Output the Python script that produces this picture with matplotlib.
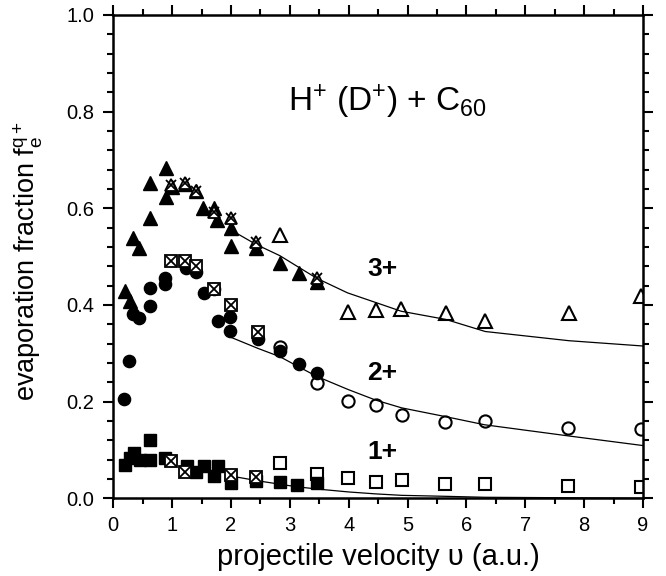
import matplotlib
matplotlib.use("Agg")
import matplotlib.pyplot as plt
from matplotlib.ticker import MultipleLocator

plt.rcParams['font.family'] = ['Liberation Sans', 'DejaVu Sans']
plt.rcParams['mathtext.fontset'] = 'custom'
plt.rcParams['mathtext.rm'] = 'Liberation Sans'
plt.rcParams['mathtext.default'] = 'regular'

# 1+ : filled (H+), crossed (D+), open
x1_fill = [0.20, 0.29, 0.35, 0.45, 0.62, 0.62, 0.88, 1.25, 1.41, 1.55, 1.72, 1.78, 2.00, 2.43, 2.83, 3.13, 3.47]
y1_fill = [0.068, 0.083, 0.093, 0.080, 0.080, 0.121, 0.083, 0.066, 0.054, 0.066, 0.046, 0.066, 0.031, 0.036, 0.034, 0.028, 0.031]
x1_cross = [0.99, 1.22, 2.00, 2.43]
y1_cross = [0.078, 0.055, 0.048, 0.043]
x1_open = [2.83, 3.47, 3.98, 4.46, 4.90, 5.64, 6.31, 7.73, 8.97]
y1_open = [0.072, 0.050, 0.041, 0.034, 0.038, 0.030, 0.030, 0.025, 0.023]

# 2+
x2_fill = [0.19, 0.27, 0.34, 0.44, 0.62, 0.62, 0.88, 0.88, 1.24, 1.37, 1.41, 1.54, 1.71, 1.78, 1.99, 1.99, 2.46, 2.83, 3.15, 3.46]
y2_fill = [0.205, 0.284, 0.381, 0.373, 0.397, 0.435, 0.455, 0.443, 0.476, 0.478, 0.469, 0.424, 0.433, 0.367, 0.376, 0.346, 0.329, 0.305, 0.277, 0.260]
x2_cross = [0.99, 1.22, 1.41, 1.72, 2.00, 2.46]
y2_cross = [0.491, 0.491, 0.480, 0.433, 0.399, 0.344]
x2_open = [2.83, 3.46, 3.99, 4.46, 4.90, 5.64, 6.31, 7.73, 8.97]
y2_open = [0.312, 0.238, 0.202, 0.193, 0.172, 0.157, 0.159, 0.145, 0.143]

# 3+
x3_fill = [0.20, 0.28, 0.34, 0.44, 0.62, 0.62, 0.89, 0.89, 1.00, 1.22, 1.41, 1.53, 1.72, 1.76, 2.00, 2.00, 2.43, 2.83, 3.15, 3.46]
y3_fill = [0.428, 0.409, 0.538, 0.518, 0.580, 0.653, 0.683, 0.624, 0.645, 0.650, 0.635, 0.600, 0.601, 0.575, 0.559, 0.521, 0.518, 0.487, 0.466, 0.448]
x3_cross = [0.99, 1.22, 1.41, 1.72, 2.00, 2.43, 3.46]
y3_cross = [0.649, 0.652, 0.636, 0.592, 0.580, 0.531, 0.455]
x3_open = [2.83, 3.98, 4.46, 4.89, 5.65, 6.32, 7.74, 8.97]
y3_open = [0.545, 0.386, 0.389, 0.392, 0.384, 0.366, 0.383, 0.419]

# model curves
c1_x = [2.0, 2.46, 3.1, 3.47, 4.0, 4.46, 4.9, 5.64, 6.31, 7.73, 9.0]
c1_y = [0.046, 0.036, 0.024, 0.019, 0.013, 0.009, 0.006, 0.004, 0.002, 0.001, 0.0]
c2_x = [2.0, 2.46, 2.83, 3.15, 3.46, 3.99, 4.46, 4.90, 5.64, 6.31, 7.73, 9.0]
c2_y = [0.333, 0.310, 0.293, 0.272, 0.252, 0.225, 0.203, 0.187, 0.169, 0.152, 0.129, 0.109]
c3_x = [2.0, 2.43, 2.83, 3.15, 3.46, 3.98, 4.46, 4.89, 5.65, 6.32, 7.74, 9.0]
c3_y = [0.555, 0.525, 0.502, 0.478, 0.455, 0.425, 0.405, 0.387, 0.370, 0.345, 0.326, 0.315]

fig = plt.figure(figsize=(6.66, 5.76), dpi=100)
ax = fig.add_axes([0.170, 0.135, 0.7955, 0.839])

ms = 8.8
for cx, cy in [(c1_x, c1_y), (c2_x, c2_y), (c3_x, c3_y)]:
    ax.plot(cx, cy, color='black', lw=0.9, zorder=2)

for xf, yf, xc, yc, xo, yo, m in [
    (x1_fill, y1_fill, x1_cross, y1_cross, x1_open, y1_open, 's'),
    (x2_fill, y2_fill, x2_cross, y2_cross, x2_open, y2_open, 'o'),
    (x3_fill, y3_fill, x3_cross, y3_cross, x3_open, y3_open, '^'),
]:
    big = ms + (1 if m == '^' else 0)
    ax.plot(xf, yf, ls='none', marker=m, ms=big, color='black', zorder=3)
    cm = 's' if m != '^' else '^'
    ax.plot(xc, yc, ls='none', marker=cm, ms=ms, mfc='white', mec='black', mew=1.3, zorder=4)
    ax.plot(xc, yc, ls='none', marker='x', ms=ms - 1, mec='black', mew=1.3, zorder=5)
    ax.plot(xo, yo, ls='none', marker=m, ms=big, mfc='none', mec='black', mew=1.5, zorder=4)

ax.text(4.66, 0.80, r'H$^{+}$ (D$^{+}$) + C$_{60}$', fontsize=24, ha='center', va='baseline')
ax.text(4.57, 0.475, '3+', fontsize=19, fontweight='bold', ha='center', va='center')
ax.text(4.57, 0.259, '2+', fontsize=19, fontweight='bold', ha='center', va='center')
ax.text(4.57, 0.096, '1+', fontsize=19, fontweight='bold', ha='center', va='center')

ax.set_xlim(0, 9)
ax.set_ylim(0, 1.0)
ax.xaxis.set_major_locator(MultipleLocator(1))
ax.xaxis.set_minor_locator(MultipleLocator(0.5))
ax.yaxis.set_major_locator(MultipleLocator(0.2))
ax.yaxis.set_minor_locator(MultipleLocator(0.04))
ax.set_yticklabels([f'{v:.1f}' for v in ax.get_yticks()])

ax.tick_params(which='both', direction='out', top=True, right=True, width=1.5, labelsize=14.5)
ax.tick_params(which='major', length=7.5, pad=5)
ax.tick_params(axis='y', which='major', pad=6)
ax.tick_params(which='minor', length=4.5)
for s in ax.spines.values():
    s.set_linewidth(1.8)

ax.set_xlabel('projectile velocity υ (a.u.)', fontsize=21)
ax.set_ylabel(r'evaporation fraction f$_{e}^{q+}$', fontsize=19.5)
ax.xaxis.set_label_coords(0.5, -0.092)
ax.yaxis.set_label_coords(-0.128, 0.49)

fig.savefig('out.png', dpi=100)
